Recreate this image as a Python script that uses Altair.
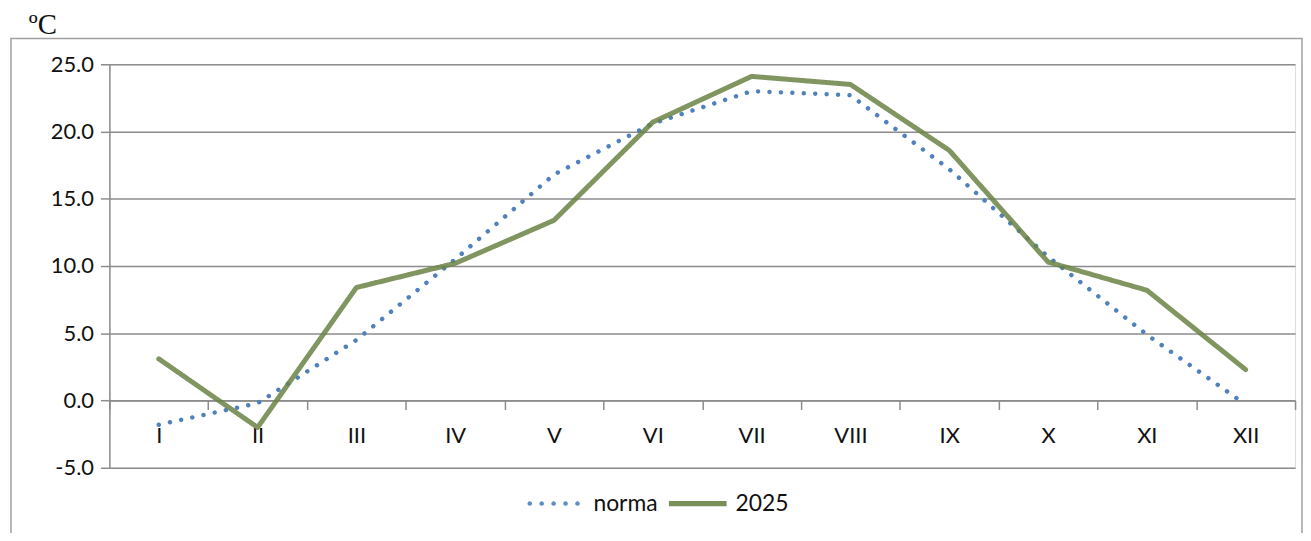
import altair as alt
import pandas as pd

months = ["I", "II", "III", "IV", "V", "VI", "VII", "VIII", "IX", "X", "XI", "XII"]
norma = [-1.8, -0.2, 4.5, 10.5, 16.8, 20.6, 23.0, 22.7, 17.2, 10.7, 4.9, -0.3]
y2025 = [3.1, -2.0, 8.4, 10.2, 13.4, 20.7, 24.1, 23.5, 18.6, 10.3, 8.2, 2.3]
series_names = ["norma", "2025"]
y_ticks = [-5, 0, 5, 10, 15, 20, 25]

rows = []
for m, v in zip(months, norma):
    rows.append({"month": m, "series": "norma", "value": v})
for m, v in zip(months, y2025):
    rows.append({"month": m, "series": "2025", "value": v})
df = pd.DataFrame(rows)

W, H = 1193, 406
FONT = "Lato"
GRAY = "#8c8c8c"
COLORS = ["#4f81bd", "#6b8245"]


def dot(cx, r=0.08):
    return f"M{cx - r:.3f},0 a{r},{r} 0 1,0 {2 * r:.3f},0 a{r},{r} 0 1,0 {-2 * r:.3f},0 Z "


dots_path = "".join(dot(c) for c in [-0.897, -0.483, -0.069, 0.345, 0.759])
bar_path = "M-1,-0.09 L1,-0.09 L1,0.09 L-1,0.09 Z"

lines = alt.Chart(df).mark_line(strokeCap="round", strokeJoin="round").encode(
    x=alt.X("month:N", sort=months, bandPosition=0.5,
            scale=alt.Scale(type="band", paddingInner=0, paddingOuter=0),
            axis=alt.Axis(title=None, labelAngle=0, tickBand="extent", offset=-H * 5 / 30,
                          tickSize=9, tickColor=GRAY, tickWidth=1.5, domainColor=GRAY,
                          domainWidth=1.5, labelPadding=16, labelFontSize=22, labelFont=FONT,
                          labelColor="#111", grid=False)),
    y=alt.Y("value:Q", scale=alt.Scale(domain=[-5, 25], nice=False, zero=False),
            axis=alt.Axis(title=None, values=y_ticks, format=".1f",
                          labelExpr="replace(datum.label, '\u2212', '-')",
                          tickSize=9, tickColor=GRAY,
                          tickWidth=1.5, domainColor=GRAY, domainWidth=1.5, gridColor=GRAY,
                          gridWidth=1.5, labelFontSize=22, labelFont=FONT, labelColor="#111",
                          labelPadding=7)),
    color=alt.Color("series:N", sort=series_names,
                    scale=alt.Scale(domain=series_names, range=COLORS), legend=None),
    strokeDash=alt.StrokeDash("series:N", sort=series_names,
                              scale=alt.Scale(domain=series_names, range=[[0.01, 11.5], [1, 0]]),
                              legend=None),
    strokeWidth=alt.StrokeWidth("series:N", sort=series_names,
                                scale=alt.Scale(domain=series_names, range=[4.5, 5]),
                                legend=None),
    opacity=alt.Opacity("series:N", sort=series_names,
                        scale=alt.Scale(domain=series_names, range=[1.0, 0.85]),
                        legend=None),
    order=alt.Order("order:Q"),
).transform_calculate(order="datum.series == 'norma' ? 0 : 1")

legend_props = dict(title=None, orient="none", direction="horizontal",
                    legendX=420, legendY=413, symbolSize=3364,
                    symbolStrokeWidth=0, symbolOpacity=0.9,
                    labelFontSize=23, labelFont=FONT,
                    labelColor="#111", columnPadding=11, labelOffset=9)

legend_layer = alt.Chart(df).mark_point(filled=True, opacity=1).encode(
    color=alt.Color("series:N", sort=series_names,
                    scale=alt.Scale(domain=series_names, range=COLORS),
                    legend=alt.Legend(**legend_props)),
    shape=alt.Shape("series:N", sort=series_names,
                    scale=alt.Scale(domain=series_names, range=[dots_path, bar_path]),
                    legend=alt.Legend(**legend_props)),
).transform_filter("false")

frame = alt.Chart(alt.Data(values=[{}])).mark_rect(
    fillOpacity=0, stroke="#a0a0a0", strokeWidth=1.5
).encode(x=alt.value(-99), x2=alt.value(1200), y=alt.value(-26), y2=alt.value(H + 120))

unit = alt.Chart(alt.Data(values=[{"t": "ºC"}])).mark_text(
    font="Liberation Serif", fontSize=29, align="left", baseline="middle", color="#111"
).encode(x=alt.value(-81), y=alt.value(-39), text="t:N")

chart = alt.layer(frame, lines, legend_layer, unit).resolve_scale(
    color="independent", shape="independent"
).properties(
    width=W, height=H,
    autosize=alt.AutoSizeParams(type="none"),
    padding={"left": 102, "top": 55, "right": 8, "bottom": 64},
).configure_view(stroke=None).configure(background="white")

chart.save("out.html", embed_options={"renderer": "svg", "actions": False})
